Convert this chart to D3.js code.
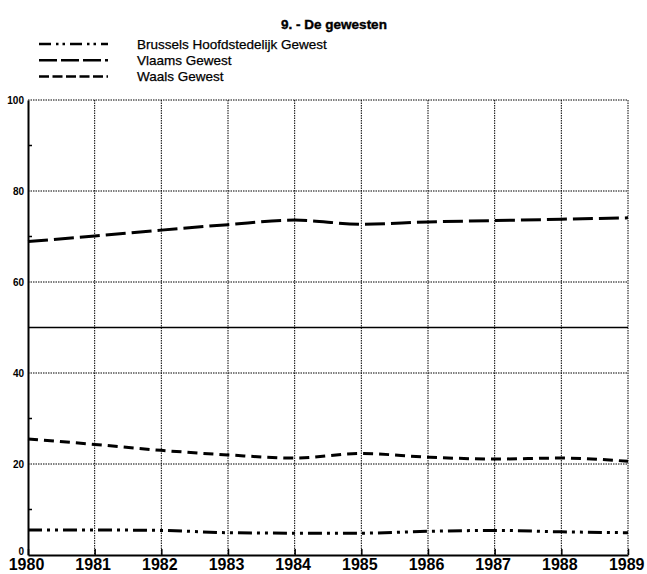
<!DOCTYPE html>
<html><head><meta charset="utf-8">
<script src="https://cdn.jsdelivr.net/npm/d3@7"></script>
<style>body{margin:0;background:#fff}svg{display:block}</style>
</head><body>
<svg id="c" width="647" height="574"></svg>
<script>
const years = [1980,1981,1982,1983,1984,1985,1986,1987,1988,1989];
const brussels = [5.5,5.5,5.4,4.9,4.8,4.8,5.2,5.4,5.1,4.9];
const vlaams = [68.9,70.1,71.4,72.6,73.6,72.7,73.2,73.5,73.8,74.1];
const waals = [25.5,24.3,23.0,22.0,21.3,22.3,21.5,21.1,21.3,20.6];
const yTicks = [0,20,40,60,80,100];
const yMinor = [10,30,70,90];
const seriesNames = ["Brussels Hoofdstedelijk Gewest","Vlaams Gewest","Waals Gewest"];
const title = "9. - De gewesten";

const svg = d3.select("#c");
const L=28,R=628,T=100,B=555;
const x = d3.scaleLinear().domain([1980,1989]).range([L,R]);
const y = d3.scaleLinear().domain([0,100]).range([B,T]);
const font = "'Liberation Sans',Arial,sans-serif";

svg.append("text").attr("x",334).attr("y",29).attr("text-anchor","middle")
  .attr("font-family",font).attr("font-weight","bold").attr("font-size",13.5)
  .attr("stroke","#000").attr("stroke-width",0.4).text(title);

// grid
const g = svg.append("g");
g.selectAll(".vg").data(years.slice(1)).join("line")
  .attr("x1",d=>x(d)).attr("x2",d=>x(d)).attr("y1",T).attr("y2",B)
  .attr("stroke","#000").attr("stroke-width",1).attr("stroke-dasharray","1.5,1");
g.selectAll(".hg").data(yTicks.slice(1)).join("line")
  .attr("x1",L).attr("x2",R).attr("y1",d=>y(d)).attr("y2",d=>y(d))
  .attr("stroke","#000").attr("stroke-width",1).attr("stroke-dasharray","1.5,1");
g.append("line").attr("x1",L).attr("x2",R).attr("y1",y(50)).attr("y2",y(50))
  .attr("stroke","#000").attr("stroke-width",1.5);

// axes
const yAxis = d3.axisLeft(y).tickValues(yTicks).tickSize(0).tickPadding(4);
const ya = svg.append("g").attr("transform",`translate(${L},0)`).call(yAxis);
ya.select(".domain").attr("stroke-width",2);
ya.selectAll("text").attr("font-family",font).attr("font-weight","bold").attr("font-size",10).attr("fill","#000")
  .attr("dy",d=>d===0?"-0.1em":"0.32em");
svg.selectAll(".ym").data(yMinor).join("line")
  .attr("x1",L).attr("x2",L+4).attr("y1",d=>y(d)).attr("y2",d=>y(d)).attr("stroke","#000").attr("stroke-width",1.5);

const xAxis = d3.axisBottom(x).tickValues(years).tickFormat(d3.format("d")).tickSize(4).tickSizeOuter(0).tickPadding(3);
const xa = svg.append("g").attr("transform",`translate(0,${B})`).call(xAxis);
xa.select(".domain").attr("stroke-width",2);
xa.selectAll(".tick line").attr("y1",-6).attr("y2",0).attr("stroke-width",1.5);
xa.selectAll("text").attr("font-family",font).attr("font-weight","bold").attr("font-size",16).attr("fill","#000")
  .attr("y",0).attr("dy",0).attr("transform","translate(-2,15)")
  .attr("text-anchor",d=>d===1989?"end":"middle")
  .attr("dx",d=>d===1989?"18":"0");

// lines
const dashes = ["14,5,3,5,3,5","20,6","10,6"];
const legDashes = ["12,5,2.5,4,2.5,5","18,4","10,3.5"];
const data = [brussels,vlaams,waals];
const line = d3.line().x((d,i)=>x(years[i])).y(d=>y(d)).curve(d3.curveMonotoneX);
svg.selectAll(".s").data(data).join("path")
  .attr("d",d=>line(d)).attr("fill","none").attr("stroke","#000")
  .attr("stroke-width",3).attr("stroke-dasharray",(d,i)=>dashes[i]);

// legend
const leg = svg.append("g");
seriesNames.forEach((n,i)=>{
  const ly = 44+i*16.3;
  leg.append("line").attr("x1",39).attr("x2",108).attr("y1",ly).attr("y2",ly)
    .attr("stroke","#000").attr("stroke-width",2.5).attr("stroke-dasharray",legDashes[i]);
  leg.append("text").attr("x",137).attr("y",ly+4.5).attr("font-family",font)
    .attr("font-size",13.5).attr("stroke","#000").attr("stroke-width",0.25).text(n);
});
</script>
</body></html>
